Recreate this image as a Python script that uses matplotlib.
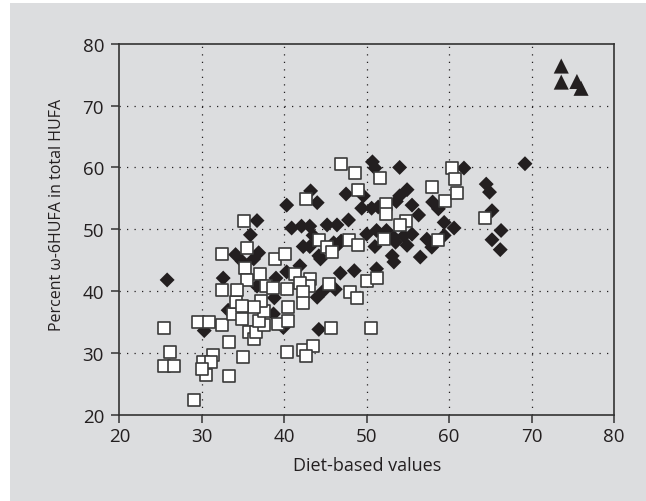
import matplotlib
matplotlib.use("Agg")
import matplotlib.pyplot as plt
from matplotlib.patches import Rectangle

# Black diamonds
diamond_x = [25.8, 30.3, 32.6, 33.2, 34.1, 34.9, 35.9, 36.7, 36.9, 36.3,
             36.7, 38.8, 39.0, 38.7, 39.9, 40.3, 41.9, 44.4, 44.0, 44.8,
             46.2, 46.8, 48.5, 51.2, 44.2, 40.3, 43.2, 44.0, 47.5, 49.6,
             49.4, 50.6, 51.4, 50.7, 51.0, 54.0, 54.9, 54.0, 53.6, 55.5,
             56.3, 58.0, 58.7, 59.4, 60.6, 59.4, 57.3, 57.9, 56.5, 53.1,
             53.3, 54.9, 53.5, 51.0, 50.0, 51.2, 52.4, 53.3, 54.5, 55.5,
             40.9, 42.1, 43.1, 45.2, 46.4, 47.8, 43.5, 42.3, 43.1, 44.2,
             46.6, 46.0, 46.9, 61.8, 64.5, 64.9, 65.2, 66.3, 65.2, 66.2,
             69.2]
diamond_y = [41.8, 33.6, 42.1, 36.9, 45.9, 44.8, 49.1, 51.4, 46.2, 45.2,
             40.8, 38.9, 42.1, 36.3, 34.1, 43.1, 44.1, 45.2, 39.0, 40.1,
             40.3, 42.9, 43.3, 43.6, 33.8, 53.9, 56.2, 54.3, 55.7, 55.4,
             53.4, 53.4, 53.6, 60.9, 59.9, 60.0, 56.4, 55.4, 54.5, 53.9,
             52.3, 54.4, 53.3, 51.1, 50.2, 49.0, 48.4, 47.1, 45.5, 45.7,
             44.7, 47.4, 47.9, 47.2, 49.2, 49.8, 49.8, 48.7, 48.9, 49.2,
             50.2, 50.5, 50.5, 50.7, 50.7, 51.5, 49.0, 47.2, 47.2, 45.7,
             47.6, 47.8, 48.1, 59.9, 57.3, 56.0, 53.0, 49.8, 48.3, 46.7,
             60.6]

# Open squares
square_x = [25.4, 26.2, 25.4, 26.6, 29.0, 29.6, 30.9, 32.5, 33.3, 31.4,
            30.2, 31.1, 30.5, 30.0, 33.3, 35.0, 33.8, 34.2, 34.9, 35.7,
            36.3, 36.6, 37.5, 37.0, 37.5, 37.2, 35.1, 32.4, 35.5, 35.3,
            38.9, 35.5, 37.1, 32.4, 34.3, 37.8, 38.7, 40.1, 36.3, 34.9,
            39.3, 40.5, 40.5, 40.3, 40.3, 42.3, 43.5, 42.7, 45.7, 50.5,
            41.3, 43.1, 43.0, 41.9, 42.3, 42.3, 45.4, 48.0, 48.8, 50.0,
            51.2, 42.7, 46.9, 48.6, 51.6, 48.9, 44.2, 45.2, 45.8, 47.9,
            49.0, 52.4, 52.4, 54.8, 54.0, 52.1, 57.9, 59.5, 58.6, 60.4,
            60.7, 60.9, 64.3]
square_y = [34.0, 30.1, 27.9, 27.9, 22.4, 35.0, 35.0, 34.5, 31.7, 29.7,
            28.6, 28.6, 26.4, 27.4, 26.3, 29.4, 36.3, 38.2, 35.5, 33.3,
            32.2, 33.3, 34.5, 35.2, 36.8, 38.4, 51.3, 46.0, 46.9, 43.7,
            45.2, 41.8, 42.8, 40.1, 40.1, 40.8, 40.5, 46.0, 37.4, 37.6,
            34.7, 35.1, 37.4, 40.3, 30.2, 30.4, 31.1, 29.5, 34.0, 34.1,
            42.8, 42.0, 40.8, 41.3, 39.8, 38.1, 41.2, 39.9, 38.8, 41.7,
            42.1, 54.9, 60.5, 59.1, 58.3, 56.4, 48.3, 47.1, 46.3, 48.2,
            47.4, 54.1, 52.5, 51.4, 50.7, 48.5, 56.9, 54.6, 48.2, 59.9,
            58.1, 55.8, 51.8]

# Black triangles
triangle_x = [73.6, 73.6, 75.5, 76.0]
triangle_y = [76.4, 73.8, 73.9, 72.8]

x_ticks = [20, 30, 40, 50, 60, 70, 80]
y_ticks = [20, 30, 40, 50, 60, 70, 80]

panel = '#dcdddf'
ink = '#231f20'

plt.rcParams['font.family'] = ['Open Sans', 'DejaVu Sans']

fig = plt.figure(figsize=(6.46, 5.02), dpi=100, facecolor='white')
# grey panel behind everything, white strip on the left and top
fig.patches.append(Rectangle((10 / 646, 0), 1, 1 - 4 / 502, transform=fig.transFigure,
                             facecolor=panel, edgecolor='none', zorder=-10))
ax = fig.add_axes([0.1847, 0.1719, 0.7658, 0.7389])
ax.set_facecolor(panel)

ax.scatter(diamond_x, diamond_y, marker='D', s=58, color=ink, edgecolors='none', zorder=3)
ax.scatter(square_x, square_y, marker='s', s=68, facecolor='white', edgecolors='#3a3a3a',
           linewidths=1.2, zorder=4)
ax.scatter(triangle_x, triangle_y, marker='^', s=118, color=ink, edgecolors='none', zorder=5)

ax.set_xlim(20, 80)
ax.set_ylim(20, 80)
ax.set_xticks(x_ticks)
ax.set_yticks(y_ticks)

for v in x_ticks[1:-1]:
    ax.axvline(v, color=ink, lw=0.9, linestyle=(0, (1, 5)), zorder=1)
for v in y_ticks[1:-1]:
    ax.axhline(v, color=ink, lw=0.9, linestyle=(0, (1, 5)), zorder=1)

for sp in ax.spines.values():
    sp.set_color('#333333')
    sp.set_linewidth(1.2)

ax.tick_params(direction='out', length=6, width=1.1, color='#333333',
               labelsize=13.5, labelcolor=ink)
ax.tick_params(axis='x', pad=3)
ax.tick_params(axis='y', pad=5)

ax.set_xlabel('Diet-based values', fontsize=13, color=ink)
ax.set_ylabel('Percent ω-6HUFA in total HUFA', fontsize=11.5, color=ink)
ax.xaxis.set_label_coords(0.5, -0.112)
ax.yaxis.set_label_coords(-0.11, 0.54)

fig.savefig('out.png', dpi=100, facecolor=fig.get_facecolor())
